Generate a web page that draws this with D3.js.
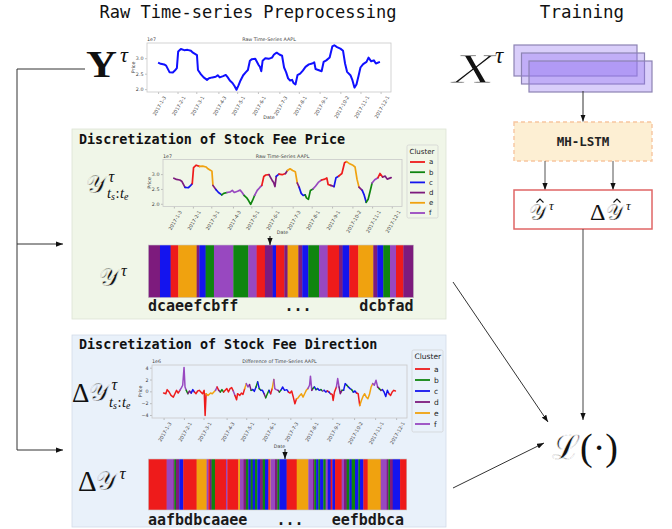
<!DOCTYPE html>
<html>
<head>
<meta charset="utf-8">
<script src="https://cdn.jsdelivr.net/npm/d3@7"></script>
<style>
  body { margin: 0; background: #fff; }
  svg { display: block; }
</style>
</head>
<body>
<svg id="fig" width="672" height="529"></svg>
<script>
// ---------- data ----------
const clusterNames  = ["a", "b", "c", "d", "e", "f"];
const clusterColors = ["#ee1b1b", "#0f850f", "#1414ee", "#7d1b7d", "#f0a20f", "#9848c0"];

const dateTicks = ["2017-01-03", "2017-02-01", "2017-03-01", "2017-04-03", "2017-05-01", "2017-06-01",
                   "2017-07-03", "2017-08-01", "2017-09-01", "2017-10-02", "2017-11-01", "2017-12-01"];

// AAPL series, days after 2017-01-03, values in units of 1e7
const priceDays = [0, 4, 9, 12, 17, 22, 25, 28, 30, 34, 39, 44, 49, 52, 55, 58, 59.5, 64, 68, 73, 76, 81, 86,
  89, 92, 97, 101, 104, 107, 111, 114, 117, 120, 123, 127, 131, 134, 137, 140, 145, 147, 150, 152, 154, 156,
  160, 165, 170, 173, 177, 181, 185, 188, 191, 194, 197, 200, 202, 205, 208, 212, 216, 220, 225, 230, 233,
  235, 239, 244, 247, 251, 256, 260, 263, 267, 272, 276, 279, 282, 287, 290, 293, 296, 299, 302, 306, 311,
  314, 318, 322, 325, 331];
const priceValues = [2.86, 2.82, 2.80, 2.76, 2.55, 2.54, 2.60, 2.68, 3.22, 3.30, 3.26, 3.27, 3.24, 3.18, 3.14,
  3.10, 2.62, 2.48, 2.38, 2.30, 2.35, 2.38, 2.40, 2.45, 2.38, 2.42, 2.46, 2.38, 2.28, 2.20, 2.10, 1.98, 2.12,
  2.28, 2.45, 2.55, 2.62, 2.92, 2.97, 2.98, 2.90, 2.78, 2.72, 2.58, 2.92, 3.00, 2.98, 3.02, 3.12, 3.18, 3.12,
  3.08, 2.70, 2.55, 2.35, 2.28, 2.30, 2.20, 2.15, 2.45, 2.50, 2.60, 2.72, 2.80, 2.83, 2.87, 2.65, 2.62, 2.58,
  2.88, 2.93, 3.02, 3.38, 3.42, 3.36, 3.31, 3.24, 2.83, 2.56, 2.45, 2.29, 2.05, 2.15, 2.42, 2.70, 2.81, 2.88,
  3.02, 2.90, 2.93, 2.83, 2.88];

// cluster runs of the price series (start day of each run, and its cluster)
const priceRunStarts = [0, 14.6, 27.9, 37.5, 60.4, 63.7, 71.6, 82, 106.2, 124.9, 135.3, 145.7, 155.3, 159.5,
  169.9, 174, 187.4, 192.3, 199.9, 213.2, 224, 238.2, 242.7, 251.1, 262.3, 281, 286, 293.5, 301.9, 309.4, 318.5];
const priceRunLabels = "dcaedcbfbfadcadedcbfadcaedcbfad".split("");

// day-to-day difference series, values in units of 1e6
const diffDays = [0, 3.2, 5.1, 7.9, 10.6, 13.9, 16.2, 18.5, 20.8, 23.2, 25.5, 27.3, 29.2, 30.6, 32.4, 34.7, 37,
  39.4, 41.7, 44, 46.3, 48.6, 50.9, 53.2, 55.6, 57.9, 59.3, 60.7, 63.4, 67.1, 69.5, 71.8, 74.1, 76.4, 78.7, 81,
  83.3, 85.7, 88, 90.3, 92.6, 94.9, 97.2, 99.5, 101.9, 104.2, 105.6, 108.8, 111.1, 113.4, 115.8, 118.1, 120.4,
  122.7, 125, 127.3, 129.6, 132, 134.3, 136.6, 138.9, 141.2, 143.5, 145.8, 148.2, 150.5, 152.8, 155.1, 157.4,
  158.8, 160.7, 163.4, 165.3, 168.1, 169.9, 172.7, 175.9, 178.3, 180.6, 182.9, 185.2, 187.5, 189.8, 192.1,
  194.5, 196.8, 199.1, 201.4, 203.7, 206, 208.4, 209.7, 211.6, 213, 215.3, 217.6, 219.9, 222.2, 224.6, 226.9,
  229.2, 231.5, 233.8, 236.1, 238.4, 240.8, 242.1, 244, 246.8, 248.6, 250.5, 252.3, 254.7, 257, 259.3, 261.6,
  263.9, 266.2, 268.5, 270.9, 273.2, 275.5, 277.8, 280.1, 282.4, 284.7, 287.1, 289.4, 291.7, 294, 296.3, 298.6,
  300.9, 303.3, 305.6, 307.9, 310.2, 312.5, 314.8, 317.2, 319.5, 321.8, 324.1, 326.4, 328.7, 331];
const diffValues = [-0.29, -0.4, 0.29, -0.11, -0.69, -0.97, -0.4, 0.17, -0.29, 0.17, 0.63, 1.03, 4.05, 0.74,
  0.17, -0.4, 0.06, -0.29, 0.29, -0.11, -0.4, 0.06, 0.17, -0.11, -0.4, 0.17, -4.1, -0.4, -0.69, -0.29, -0.4,
  -0.11, 0.17, 0.74, 0.17, -0.11, 0.29, -0.11, 0.17, 0.46, -0.11, 0.46, 0.63, 0.06, -0.69, -1.43, -0.4, -0.69,
  -0.29, -0.51, 0.46, 1.31, 0.74, 1.14, 0.17, 0.29, 0, 0.74, 1.6, 0.46, 0.17, 0.17, -0.4, -1.09, -0.4, 0.17,
  -0.4, 0.46, 2.0, 0.46, 0.29, 0.17, -0.11, 0.29, 0.74, 0.17, 0.29, -0.11, -0.29, 0.06, -0.97, -2.11, -1.26,
  -1.09, -0.69, -0.4, -0.97, -0.4, 0.17, 0.46, 1.03, 2.57, 0.17, 0.46, 0.74, 0.29, 0.46, 0.17, 0.29, 0.06,
  0.17, -0.11, 0.06, -0.11, -0.4, -0.51, -1.54, -0.11, 0.74, 2.17, 0.74, -0.4, 0.17, 0.17, 1.31, 1.03, 0.74,
  0.46, 0.29, -0.11, 0.06, -0.29, -0.4, -2.4, -1.54, -0.86, -0.4, -0.97, -1.26, -0.51, 0.74, 1.31, 1.03, 1.89,
  0.74, 0.46, 0.17, 0.29, -0.11, -0.86, 0.17, -0.4, -0.69, -0.11, 0.17, 0.06];

// cluster runs of the difference series
const diffRunStarts = [0, 23.5, 32, 33.3, 35.4, 39.7, 44.8, 61.9, 74.7, 76.9, 79, 81.1, 85.4, 99.5, 101.2, 115.3,
  117.5, 121.7, 125.1, 128.1, 131.1, 133.7, 136.7, 139.7, 143.1, 146.5, 149.5, 153.8, 155.5, 156.5, 162.3,
  165.3, 167.9, 177.2, 190.1, 205, 211, 212.5, 215, 217.8, 220, 224.2, 227.2, 229.8, 233.6, 235.8, 239.2, 247.7,
  250.7, 254.1, 257.5, 260.5, 264.8, 269.1, 271.2, 275.5, 281, 297.7, 305.4, 307.5, 309.6, 313.1, 322.5];
const diffRunLabels = "afdbdcaefadbafaefdbcbcbcdbcaefdbcaefdbcbcbfcacafdbcbcbcaefdbdca".split("");

const priceSequence = ["dcaeefcbff", "...", "dcbfad"];
const diffSequence  = ["aafbdbcaaee", "...", "eefbdbca"];

// ---------- helpers ----------
const svg = d3.select("#fig");
const MONO = "'DejaVu Sans Mono', monospace";
const SANS = "'DejaVu Sans', sans-serif";
const SERIF = "'DejaVu Serif', 'Liberation Serif', serif";
const LSERIF = "'Liberation Serif', serif";
const LAST_DAY = 331;
const baseMs = Date.UTC(2017, 0, 3);
const dayToDate = d => new Date(baseMs + d * 864e5);
const parseDay = d3.utcParse("%Y-%m-%d");
const tickFmt = d3.utcFormat("%Y-%-m-%-d");
const colorOf = d3.scaleOrdinal().domain(clusterNames).range(clusterColors);

const GREEN_BG = "#f0f6e8", BLUE_BG = "#e9f1fa";

const defs = svg.append("defs");
defs.append("marker").attr("id", "head")
  .attr("viewBox", "0 0 8 6").attr("refX", 8).attr("refY", 3)
  .attr("markerWidth", 7).attr("markerHeight", 5.5).attr("markerUnits", "userSpaceOnUse")
  .attr("orient", "auto")
  .append("path").attr("d", "M0,0 L8,3 L0,6 Z").attr("fill", "#111");

function arrow(x1, y1, x2, y2, color = "#333") {
  svg.append("line").attr("x1", x1).attr("y1", y1).attr("x2", x2).attr("y2", y2)
    .attr("stroke", color).attr("stroke-width", 1).attr("marker-end", "url(#head)");
}
function runIndex(starts, day) {
  let k = 0;
  while (k + 1 < starts.length && starts[k + 1] <= day) k++;
  return k;
}

// small matplotlib-style time-series plot
function timeChart(cfg) {
  const g = svg.append("g");
  const { left, right, top, bottom } = cfg;
  const [d0, d1] = d3.extent(cfg.days), dp = (d1 - d0) * 0.05;
  const x = d3.scaleUtc().domain([dayToDate(d0 - dp), dayToDate(d1 + dp)]).range([left, right]);
  const [v0, v1] = d3.extent(cfg.values), vp = (v1 - v0) * 0.05;
  const y = d3.scaleLinear().domain([v0 - vp, v1 + vp]).range([bottom, top]);

  const ya = g.append("g").attr("transform", `translate(${left},0)`)
    .call(d3.axisLeft(y).tickValues(cfg.yTicks).tickFormat(cfg.yFormat).tickSize(2).tickPadding(1.5));
  const xa = g.append("g").attr("transform", `translate(0,${bottom})`)
    .call(d3.axisBottom(x).tickValues(dateTicks.map(parseDay)).tickFormat(tickFmt).tickSize(2).tickPadding(1));
  [ya, xa].forEach(a => {
    a.select(".domain").remove();
    a.selectAll(".tick line").attr("stroke", "#999").attr("stroke-width", 0.6);
    a.selectAll("text").attr("font-family", SANS).attr("font-size", cfg.tickSize).attr("fill", "#444");
  });
  // rotated date labels, centred under their ticks
  xa.selectAll(".tick text").each(function () {
    const t = d3.select(this);
    const L = this.getComputedTextLength();
    t.attr("text-anchor", "end").attr("dy", "0.3em").attr("y", 0)
      .attr("transform", `translate(${L * 0.25 + 1},${4.5}) rotate(-60)`);
  });

  g.append("rect").attr("x", left).attr("y", top).attr("width", right - left).attr("height", bottom - top)
    .attr("fill", "none").attr("stroke", "#c9c9c9").attr("stroke-width", 0.8);

  const pts = cfg.days.map((d, i) => [x(dayToDate(d)), y(cfg.values[i]), d]);
  const line = d3.line().x(p => p[0]).y(p => p[1]);
  if (!cfg.runStarts) {
    g.append("path").attr("d", line(pts)).attr("fill", "none")
      .attr("stroke", cfg.color).attr("stroke-width", cfg.lineWidth).attr("stroke-linejoin", "round");
  } else {
    // consecutive segments grouped by the cluster of their midpoint
    const groups = [];
    for (let i = 0; i < pts.length - 1; i++) {
      const lab = cfg.runLabels[runIndex(cfg.runStarts, (pts[i][2] + pts[i + 1][2]) / 2)];
      const last = groups[groups.length - 1];
      if (last && last.lab === lab) last.pts.push(pts[i + 1]);
      else groups.push({ lab, pts: [pts[i], pts[i + 1]] });
    }
    g.selectAll(null).data(groups).join("path")
      .attr("d", d => line(d.pts)).attr("fill", "none")
      .attr("stroke", d => colorOf(d.lab)).attr("stroke-width", cfg.lineWidth)
      .attr("stroke-linejoin", "round").attr("stroke-linecap", "round");
  }

  g.append("text").attr("x", (left + right) / 2).attr("y", top - 1.8).attr("text-anchor", "middle")
    .attr("font-family", SANS).attr("font-size", cfg.tickSize).attr("fill", "#444").text(cfg.title);
  g.append("text").attr("x", left).attr("y", top - 1.8)
    .attr("font-family", SANS).attr("font-size", cfg.tickSize).attr("fill", "#444").text(cfg.exponent);
  g.append("text").attr("transform", `translate(${left - cfg.yLabelOffset},${(top + bottom) / 2}) rotate(-90)`)
    .attr("text-anchor", "middle").attr("font-family", SANS).attr("font-size", cfg.tickSize)
    .attr("fill", "#444").text("Price");
  g.append("text").attr("x", (left + right) / 2).attr("y", cfg.dateY).attr("text-anchor", "middle")
    .attr("font-family", SANS).attr("font-size", cfg.tickSize).attr("fill", "#444").text("Date");
  return { x, y };
}

function legend(x0, y0, w, h, firstY, step, fs) {
  const g = svg.append("g");
  g.append("rect").attr("x", x0).attr("y", y0).attr("width", w).attr("height", h).attr("rx", 1.5)
    .attr("fill", "none").attr("stroke", "#d0d0d0").attr("stroke-width", 0.7);
  g.append("text").attr("x", x0 + 2.5).attr("y", y0 + fs + 1.5).attr("font-family", SANS)
    .attr("font-size", fs).attr("fill", "#222").text("Cluster");
  const it = g.selectAll(null).data(clusterNames).join("g")
    .attr("transform", (d, i) => `translate(${x0 + 3},${firstY + i * step})`);
  it.append("line").attr("x1", 0).attr("x2", 15).attr("stroke", d => colorOf(d)).attr("stroke-width", 1.8);
  it.append("text").attr("x", 19).attr("y", fs * 0.35).attr("font-family", SANS).attr("font-size", fs)
    .attr("fill", "#222").text(d => d);
}

function strip(left, right, top, bottom, starts, labels) {
  const xs = d3.scaleLinear().domain([0, LAST_DAY]).range([left, right]);
  const runs = starts.map((s, i) => ({ s, e: i + 1 < starts.length ? starts[i + 1] : LAST_DAY, lab: labels[i] }));
  svg.append("g").selectAll(null).data(runs).join("rect")
    .attr("x", d => xs(d.s)).attr("width", d => xs(d.e) - xs(d.s) + 0.3)
    .attr("y", top).attr("height", bottom - top)
    .attr("fill", d => colorOf(d.lab));
  svg.append("rect").attr("x", left).attr("y", top).attr("width", right - left).attr("height", bottom - top)
    .attr("fill", "none").attr("stroke", "#c8c8c8").attr("stroke-width", 0.6);
}

function seqText(seq, left, mid, right, base) {
  const t = (s, x, anchor) => svg.append("text").attr("x", x).attr("y", base).attr("text-anchor", anchor)
    .attr("font-family", MONO).attr("font-weight", "bold").attr("font-size", 15).attr("fill", "#1a1a1a").text(s);
  t(seq[0], left, "start"); t(seq[1], mid, "middle"); t(seq[2], right, "end");
}

// ---------- headings ----------
svg.append("text").attr("x", 248).attr("y", 18).attr("text-anchor", "middle")
  .attr("font-family", MONO).attr("font-size", 17).attr("fill", "#111").text("Raw Time-series Preprocessing");
svg.append("text").attr("x", 582).attr("y", 18).attr("text-anchor", "middle")
  .attr("font-family", MONO).attr("font-size", 17.5).attr("fill", "#111").text("Training");

// ---------- panels ----------
svg.append("rect").attr("x", 72).attr("y", 129).attr("width", 374).attr("height", 190)
  .attr("fill", GREEN_BG).attr("stroke", "#dde3d4").attr("stroke-width", 0.8);
svg.append("rect").attr("x", 72).attr("y", 335).attr("width", 374).attr("height", 192)
  .attr("fill", BLUE_BG).attr("stroke", "#d2dce8").attr("stroke-width", 0.8);
svg.append("text").attr("x", 79).attr("y", 143.5).attr("font-family", MONO).attr("font-weight", "bold")
  .attr("font-size", 13.4).attr("fill", "#111").text("Discretization of Stock Fee Price");
svg.append("text").attr("x", 79).attr("y", 349).attr("font-family", MONO).attr("font-weight", "bold")
  .attr("font-size", 13.4).attr("fill", "#111").text("Discretization of Stock Fee Direction");

// ---------- charts ----------
timeChart({ left: 147, right: 391, top: 43, bottom: 92, days: priceDays, values: priceValues,
  yTicks: [2.0, 2.5, 3.0], yFormat: d3.format(".1f"), tickSize: 4.8, color: "#1010ff", lineWidth: 2,
  title: "Raw Time-Series AAPL", exponent: "1e7", yLabelOffset: 12, dateY: 119 });

timeChart({ left: 163, right: 402, top: 159.5, bottom: 206.5, days: priceDays, values: priceValues,
  yTicks: [2.0, 2.5, 3.0], yFormat: d3.format(".1f"), tickSize: 4.8, lineWidth: 1.7,
  runStarts: priceRunStarts, runLabels: priceRunLabels,
  title: "Raw Time-Series AAPL", exponent: "1e7", yLabelOffset: 12, dateY: 234 });
legend(407, 145, 31, 73, 162, 10.2, 7);

timeChart({ left: 152, right: 407, top: 365, bottom: 418, days: diffDays, values: diffValues,
  yTicks: [-4, -2, 0, 2, 4], yFormat: d => d3.format("d")(d).replace("-", "\u2212"), tickSize: 4.8, lineWidth: 1.5,
  runStarts: diffRunStarts, runLabels: diffRunLabels,
  title: "Difference of Time-Series AAPL", exponent: "1e6", yLabelOffset: 10, dateY: 448 });
legend(412, 350, 31, 82, 369, 11, 7.5);

// ---------- cluster strips ----------
strip(148.3, 413.3, 245, 297.7, priceRunStarts, priceRunLabels);
strip(148.3, 406.7, 459, 510, diffRunStarts, diffRunLabels);
seqText(priceSequence, 148, 298, 413.5, 311);
seqText(diffSequence, 148, 290, 404, 525);
arrow(270, 236, 270, 245, "#111");
arrow(285, 449, 285, 459, "#111");

// ---------- math labels ----------
// opts.thin paints a hairline in the surrounding colour over the glyph to lighten it
function glyph(x, y, size, str, opts = {}) {
  const t = svg.append("text").attr("x", x).attr("y", y).attr("font-family", opts.font || LSERIF)
    .attr("font-size", size).attr("fill", "#111").text(str);
  if (opts.italic) t.attr("font-style", "italic");
  if (opts.bold) t.attr("font-weight", "bold");
  if (opts.width) t.attr("textLength", opts.width).attr("lengthAdjust", "spacingAndGlyphs");
  if (opts.thin) t.attr("stroke", opts.bg || "#fff").attr("stroke-width", opts.thin);
  return t;
}
// subscript "t_s:t_e"
function subRange(x, y) {
  const t = svg.append("text").attr("x", x).attr("y", y).attr("font-family", LSERIF)
    .attr("font-size", 14.5).attr("fill", "#111");
  t.append("tspan").attr("font-style", "italic").text("t");
  t.append("tspan").attr("font-style", "italic").attr("font-size", 10).attr("dy", 2).text("s");
  t.append("tspan").attr("dy", -2).attr("dx", 0.5).text(":");
  t.append("tspan").attr("font-style", "italic").attr("dx", 0.5).text("t");
  t.append("tspan").attr("font-style", "italic").attr("font-size", 10).attr("dy", 2).text("e");
}
function hat(cx, cy, w, h) {
  svg.append("path").attr("d", `M${cx - w / 2},${cy + h} L${cx},${cy} L${cx + w / 2},${cy + h}`)
    .attr("fill", "none").attr("stroke", "#111").attr("stroke-width", 1.1);
}
const SCRIPT_Y = "\u{1D4B4}";
const TAU = "\u03C4";

// bold Y with tau
glyph(86, 77, 38, "Y", { bold: true, width: 31 });
glyph(120, 62, 22, TAU, { italic: true });
// scripted series labels in the price panel
glyph(86, 193, 25, SCRIPT_Y, { font: SERIF, thin: 0.6, bg: GREEN_BG });
glyph(108.5, 182, 16, TAU, { italic: true });
subRange(107, 198);
glyph(99, 286, 25, SCRIPT_Y, { font: SERIF, thin: 0.6, bg: GREEN_BG });
glyph(121, 276, 16, TAU, { italic: true });
// difference panel
glyph(72, 402, 27, "\u0394");
glyph(89, 401, 25, SCRIPT_Y, { font: SERIF, thin: 0.6, bg: BLUE_BG });
glyph(111.5, 390, 16, TAU, { italic: true });
subRange(109, 407);
glyph(78, 491, 29, "\u0394");
glyph(96, 490, 26, SCRIPT_Y, { font: SERIF, thin: 0.6, bg: BLUE_BG });
glyph(119.5, 479, 17, TAU, { italic: true });

// ---------- left connector ----------
svg.append("path").attr("d", "M85,69 H17 V450").attr("fill", "none").attr("stroke", "#333").attr("stroke-width", 1);
arrow(17, 244, 63, 244, "#333");
arrow(17, 450, 63, 450, "#333");

// ---------- training column ----------
glyph(452, 83, 42, "X", { italic: true, width: 43, thin: 0.9 });
glyph(495, 63, 23, TAU, { italic: true });
[0, 1, 2].forEach(i => {
  svg.append("rect").attr("x", 514 + i * 7.5).attr("y", 45 + i * 8).attr("width", 123).attr("height", 31)
    .attr("fill", "rgba(150,118,242,0.36)").attr("stroke", "#8c83b3").attr("stroke-width", 1.2);
});
arrow(583, 91, 583, 121.5, "#333");
svg.append("rect").attr("x", 514).attr("y", 122).attr("width", 138).attr("height", 39)
  .attr("fill", "#fdefd3").attr("stroke", "#f7c6a0").attr("stroke-width", 1.4).attr("stroke-dasharray", "4,3");
svg.append("text").attr("x", 583).attr("y", 146).attr("text-anchor", "middle").attr("font-family", MONO)
  .attr("font-weight", "bold").attr("font-size", 12.5).attr("fill", "#222").text("MH-LSTM");
arrow(545, 161, 545, 190, "#555");
arrow(613, 161, 613, 190, "#555");
svg.append("rect").attr("x", 514).attr("y", 190).attr("width", 138).attr("height", 39)
  .attr("fill", "#fff").attr("stroke", "#e06666").attr("stroke-width", 1.5);
glyph(529, 220, 22, SCRIPT_Y, { font: SERIF, thin: 0.5 });
glyph(549, 210, 13, TAU, { italic: true });
hat(540, 199, 7, 3.5);
glyph(590, 220, 24, "\u0394");
glyph(606, 220, 22, SCRIPT_Y, { font: SERIF, thin: 0.5 });
glyph(626, 210, 13, TAU, { italic: true });
hat(617, 199, 7, 3.5);

arrow(583, 229, 583, 420, "#444");
arrow(453, 282, 548, 422, "#333");
arrow(453, 488, 544, 443, "#333");
glyph(552, 459, 34, "\u2112", { font: SERIF, thin: 0.6 });
glyph(580, 460, 38, "(\u00B7)");
</script>
</body>
</html>
